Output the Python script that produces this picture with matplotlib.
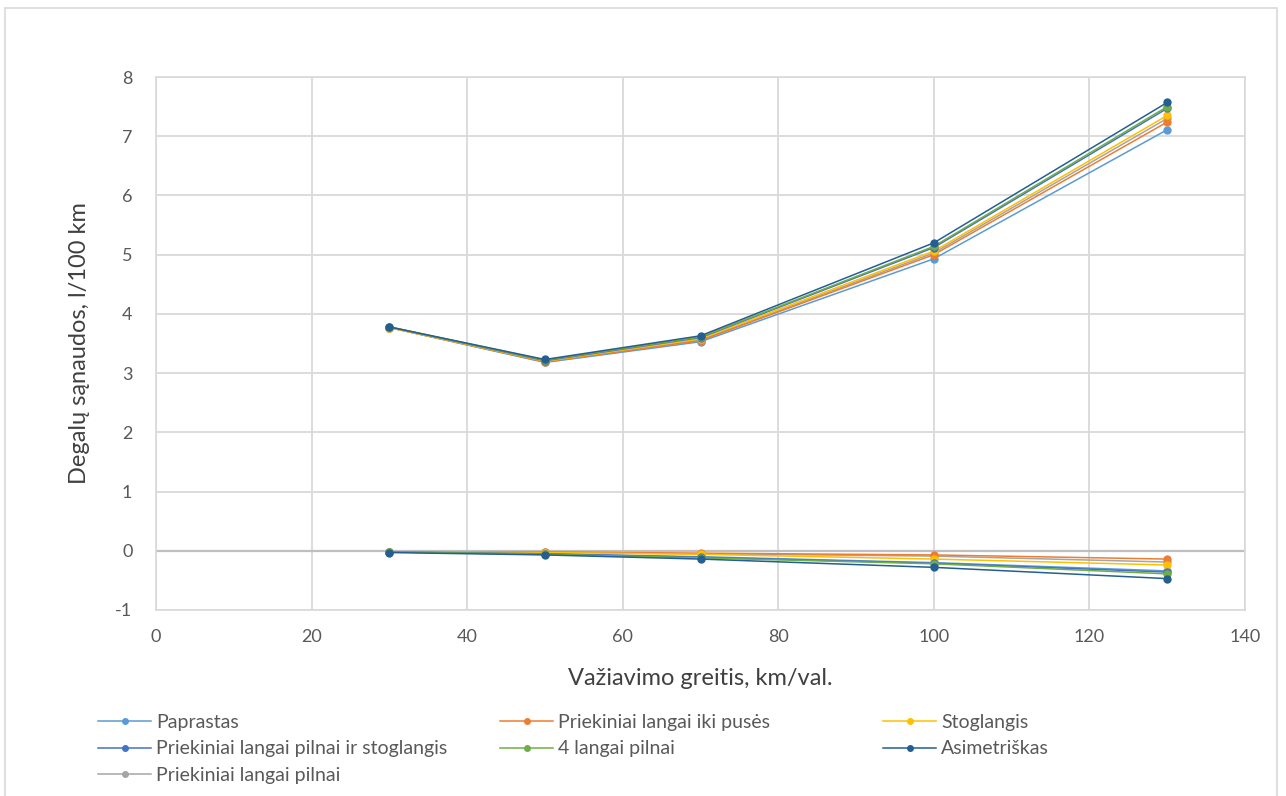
import matplotlib
matplotlib.use("Agg")
import matplotlib.pyplot as plt
from matplotlib.patches import Rectangle

plt.rcParams['font.family'] = ['Lato', 'DejaVu Sans']
plt.rcParams['axes.unicode_minus'] = False

speeds = [30, 50, 70, 100, 130]

names = [
    "Paprastas",
    "Priekiniai langai iki pusės",
    "Stoglangis",
    "Priekiniai langai pilnai ir stoglangis",
    "4 langai pilnai",
    "Asimetriškas",
    "Priekiniai langai pilnai",
]
colors = ["#5B9BD5", "#ED7D31", "#FFC000", "#4472C4", "#70AD47", "#255E91", "#A5A5A5"]

# fuel consumption, l/100 km
paprastas = [3.77, 3.18, 3.53, 4.93, 7.11]
iki_puses = [3.77, 3.19, 3.55, 5.00, 7.24]
stoglangis = [3.77, 3.20, 3.58, 5.06, 7.35]
pilnai_stoglangis = [3.78, 3.21, 3.60, 5.12, 7.47]
keturi_langai = [3.78, 3.22, 3.61, 5.14, 7.50]
asimetriskas = [3.78, 3.23, 3.63, 5.20, 7.57]
pilnai = [3.77, 3.19, 3.56, 5.03, 7.30]

# change relative to baseline
d_paprastas = [-0.02, -0.05, -0.10, -0.20, -0.34]
d_iki_puses = [-0.02, -0.02, -0.04, -0.07, -0.14]
d_stoglangis = [-0.02, -0.03, -0.06, -0.14, -0.24]
d_pilnai_stoglangis = [-0.02, -0.05, -0.11, -0.21, -0.36]
d_keturi_langai = [-0.02, -0.06, -0.12, -0.22, -0.39]
d_asimetriskas = [-0.03, -0.07, -0.14, -0.28, -0.47]
d_pilnai = [-0.02, -0.02, -0.05, -0.09, -0.19]

upper = [paprastas, iki_puses, stoglangis, pilnai_stoglangis, keturi_langai, asimetriskas, pilnai]
lower = [d_paprastas, d_iki_puses, d_stoglangis, d_pilnai_stoglangis, d_keturi_langai, d_asimetriskas, d_pilnai]

W, H = 1286, 796
fig = plt.figure(figsize=(W / 100, H / 100), dpi=100)
fig.patches.append(Rectangle((5 / W, -0.01), 1272 / W, 1 - 8 / H + 0.01,
                             transform=fig.transFigure, fill=False,
                             edgecolor="#D9D9D9", linewidth=1.2))

ax = fig.add_axes([156 / W, 1 - 610 / H, (1245 - 156) / W, (610 - 77) / H])

# draw order so the darker series sit on top
draw_order = [6, 0, 1, 2, 3, 4, 5]
handles = {}
for k, i in enumerate(draw_order):
    h, = ax.plot(speeds, upper[i], color=colors[i], lw=1.1, marker='o', ms=5,
                 label=names[i], zorder=3 + k * 0.1)
    ax.plot(speeds, lower[i], color=colors[i], lw=1.1, marker='o', ms=5,
            zorder=3 + k * 0.1)
    handles[i] = h

ax.set_xlim(0, 140)
ax.set_ylim(-1, 8)
ax.set_xticks(range(0, 141, 20))
ax.set_yticks(range(-1, 9))
ax.grid(True, color="#D9D9D9", lw=1.3)
ax.set_axisbelow(True)
ax.axhline(0, color="#BFBFBF", lw=1.6, zorder=2)
for s in ax.spines.values():
    s.set_color("#D9D9D9")
    s.set_linewidth(1.2)
ax.tick_params(length=0, labelsize=13, colors="#595959")
ax.tick_params(axis='y', pad=17)
ax.tick_params(axis='x', pad=14)

ax.set_xlabel("Važiavimo greitis, km/val.", fontsize=17, color="#404040", labelpad=16)
ax.set_ylabel("Degalų sąnaudos, l/100 km", fontsize=17, color="#404040", labelpad=18)

# three legend columns at fixed positions
columns = [([0, 3, 6], 98), ([1, 4], 500), ([2, 5], 883)]
for idx, x0 in columns:
    leg = fig.legend([handles[i] for i in idx], [names[i] for i in idx],
                     loc="upper left", bbox_to_anchor=(x0 / W, 1 - 714 / H),
                     frameon=False, fontsize=14, handlelength=2.75,
                     handletextpad=0.25, labelspacing=0.48, borderpad=0,
                     borderaxespad=0, markerscale=0.8)
    for t in leg.get_texts():
        t.set_color("#595959")

fig.savefig("out.png", dpi=100, facecolor="white")
